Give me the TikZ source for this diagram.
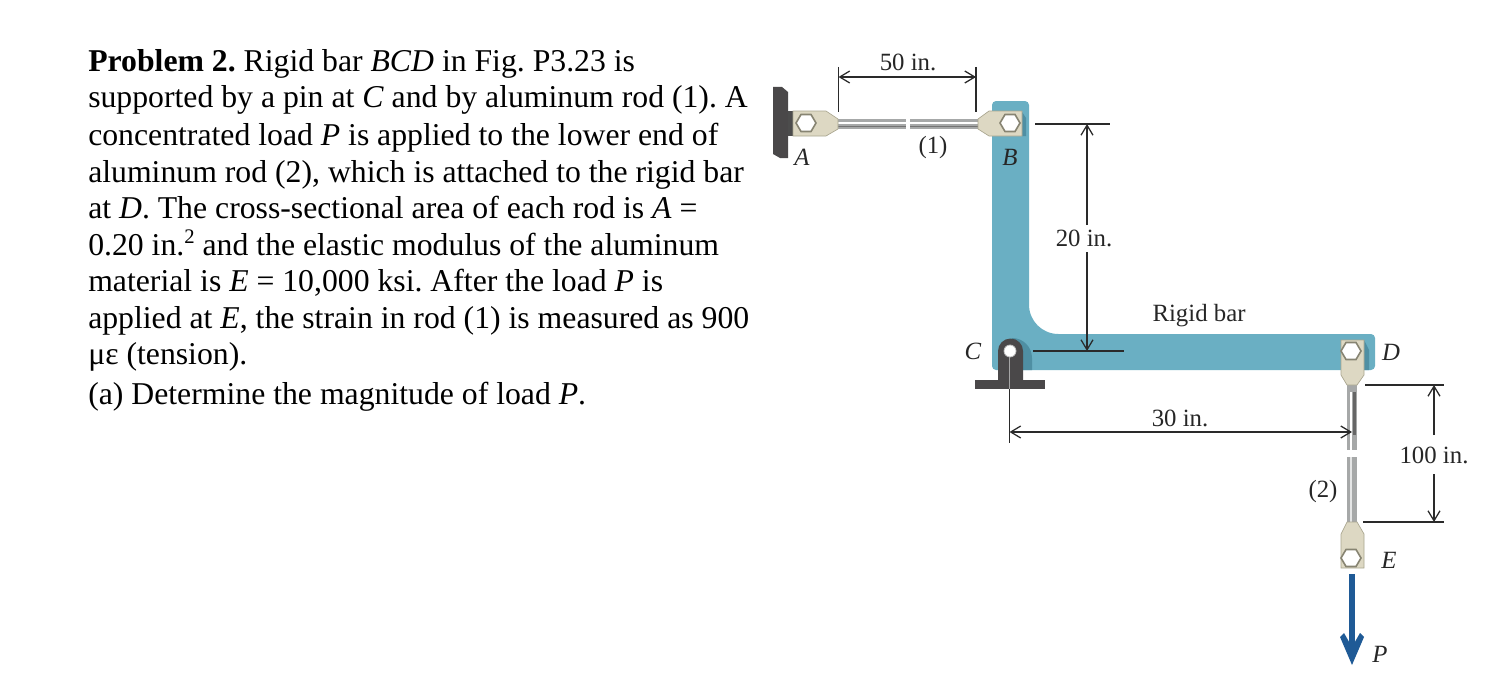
\documentclass[tikz,border=0pt]{standalone}
\usepackage{fontspec}
\setmainfont{Liberation Serif}
\usetikzlibrary{arrows.meta,calc}
\frenchspacing
\definecolor{barblue}{HTML}{6AAFC3}
\definecolor{barshade}{HTML}{4F8FA3}
\definecolor{clevis}{HTML}{DDD8C3}
\definecolor{clevisedge}{HTML}{A9A58F}
\definecolor{darkmetal}{HTML}{4A4849}
\definecolor{loadblue}{HTML}{1F5A96}
\definecolor{rodgrey}{HTML}{A6A8A8}
\definecolor{dimcol}{HTML}{2A2A2A}
\tikzset{
  x=0.75pt,y=-0.75pt,
  para/.style={anchor=base west,inner sep=0pt,font=\fontsize{23.8pt}{26pt}\selectfont},
  lab/.style={inner sep=0pt,font=\fontsize{18.6pt}{20pt}\selectfont,text=black!85},
  ilab/.style={lab,font=\fontsize{18.6pt}{20pt}\selectfont\itshape},
  dimline/.style={draw=dimcol,line width=0.95pt},
  dimarrow/.style={dimline,-{Straight Barb[length=7.5pt,width=9pt,line width=0.95pt]}},
  dimboth/.style={dimline,{Straight Barb[length=7.5pt,width=9pt,line width=0.95pt]}-{Straight Barb[length=7.5pt,width=9pt,line width=0.95pt]}},
  hexnut/.style={fill=white,draw=clevisedge!80!black,line width=1.2pt},
  clevisfill/.style={fill=clevis,draw=clevisedge,line width=0.5pt},
  rodfill/.style={fill=rodgrey},
}
\newcommand{\hexat}[1]{\draw[hexnut] ($(#1)+(10,0)$) -- ($(#1)+(5,-8.5)$) -- ($(#1)+(-5,-8.5)$) -- ($(#1)+(-10,0)$) -- ($(#1)+(-5,8.5)$) -- ($(#1)+(5,8.5)$) -- cycle;}
\begin{document}
\begin{tikzpicture}
\useasboundingbox (0,0) rectangle (1498,685);
% paragraph
\node[para] (t1) at (88,72) {\textbf{Problem 2.} Rigid bar \textit{BCD} in Fig. P3.23 is};
\node[para] (t2) at (88,108) {supported by a pin at \textit{C} and by aluminum rod (1). A};
\node[para] (t3) at (88,145) {concentrated load \textit{P} is applied to the lower end of};
\node[para] (t4) at (88,182) {aluminum rod (2), which is attached to the rigid bar};
\node[para] (t5) at (88,218) {at \textit{D}. The cross-sectional area of each rod is \textit{A} =};
\node[para] (t6) at (88,255) {0.20 in.\raisebox{0.36em}{\fontsize{15.5pt}{16pt}\selectfont 2} and the elastic modulus of the aluminum};
\node[para] (t7) at (88,291) {material is \textit{E} = 10,000 ksi. After the load \textit{P} is};
\node[para] (t8) at (88,328) {applied at \textit{E}, the strain in rod (1) is measured as 900};
\node[para] (t9) at (88,364) {με (tension).};
\node[para] (t10) at (88,404) {(a) Determine the magnitude of load \textit{P}.};
% rigid bar
\fill[barblue,rounded corners=3pt] (992,101) -- (1029,101) -- (1029,310)
  [rounded corners=22pt] -- (1029,334) [rounded corners=3pt] -- (1375,334) -- (1375,370) -- (992,370) -- cycle;
\fill[barshade] (1012,338) arc (270:360:20) -- (1032,370) -- (1012,370) -- cycle;
\fill[barshade] (1364,340) -- (1369,350) -- (1369,370) -- (1364,370) -- cycle;
\fill[barshade] (1022,112) -- (1026,118) -- (1026,136) -- (1022,136) -- cycle;
% wall at A
\fill[darkmetal] (773,87) -- (782,87) -- (788,92) -- (788,158) -- (780,158) -- (773,154) -- cycle;
\fill[black!70] (788,111) rectangle (794,136);
% rod 1
\fill[rodfill] (838,119) rectangle (906,129);
\fill[rodfill] (910,119) rectangle (980,129);
\fill[white] (838,122) rectangle (906,123.5);
\fill[white] (910,122) rectangle (980,123.5);
\fill[black!55] (838,125.5) rectangle (906,127);
\fill[black!55] (910,125.5) rectangle (980,127);
% clevis A and B
\draw[clevisfill] (793,111) -- (826,111) -- (838,119) -- (838,129) -- (826,136) -- (793,136) -- cycle;
\draw[clevisfill] (1022,111) -- (989,111) -- (978,119) -- (978,129) -- (989,136) -- (1022,136) -- cycle;
\coordinate (pinA) at (806,123);
\coordinate (pinB) at (1010,123);
\hexat{pinA}
\hexat{pinB}
% rod 2
\fill[rodfill] (1347,385) rectangle (1357,450);
\fill[rodfill] (1347,457) rectangle (1357,522);
\fill[white] (1350,392) rectangle (1351.5,450);
\fill[black!60] (1353,392) rectangle (1355.5,435);
\fill[white!70!rodgrey] (1350,457) rectangle (1351.5,522);
% clevis D and E
\draw[clevisfill] (1341,340) -- (1364,340) -- (1364,375) -- (1357,385) -- (1347,385) -- (1341,375) -- cycle;
\draw[clevisfill] (1341,568) -- (1364,568) -- (1364,534) -- (1357,522) -- (1347,522) -- (1341,534) -- cycle;
\coordinate (pinD) at (1351,351);
\coordinate (pinE) at (1351,558);
\hexat{pinD}
\hexat{pinE}
% pin support C
\coordinate (pinC) at (1010,351);
\fill[darkmetal] (998,381) -- (998,351) arc (180:360:12.5) -- (1023,381) -- cycle;
\fill[darkmetal] (975,380) rectangle (1045,389);
\fill[white,draw=black!25,line width=0.6pt] (pinC) circle (6);
% load P
\coordinate (loadTop) at (1352,574);
\coordinate (loadTip) at (1352,665);
\draw[loadblue,line width=4pt] (loadTop) -- (1352,655);
\fill[loadblue] (loadTip) -- (1340,637) -- (1344,633) -- (1352,647) -- (1360,633) -- (1364,637) -- cycle;
% dimension 50 in.
\coordinate (d50a) at (838.5,67);
\coordinate (d50ae) at (838.5,112);
\coordinate (d50b) at (976,67);
\coordinate (d50be) at (976,112);
\coordinate (d50l) at (838.5,77);
\coordinate (d50r) at (976,77);
\draw[dimline] (d50a) -- (d50ae);
\draw[dimline] (d50b) -- (d50be);
\draw[dimboth] (d50l) -- (d50r);
\node[lab] (l50) at (908,62) {50 in.};
% dimension 20 in.
\coordinate (d20a) at (1035,124);
\coordinate (d20ae) at (1110,124);
\coordinate (d20b) at (1033,351);
\coordinate (d20be) at (1124,351);
\draw[dimline] (d20a) -- (d20ae);
\draw[dimline] (d20b) -- (d20be);
\node[lab] (l20) at (1084,238) {20 in.};
\coordinate (a20t) at (1087,124);
\coordinate (a20b) at (1087,351);
\draw[dimarrow] (1087,225) -- (a20t);
\draw[dimarrow] (1087,252) -- (a20b);
% dimension 30 in.
\coordinate (d30t) at (1009.5,357);
\coordinate (d30b) at (1009.5,443);
\draw[black!35,line width=0.95pt] (d30t) -- (1009.5,389);
\draw[dimline] (1009.5,389) -- (d30b);
\coordinate (a30l) at (1009.5,432);
\coordinate (a30r) at (1352,432);
\draw[dimboth] (a30l) -- (a30r);
\node[lab] (l30) at (1180,418) {30 in.};
% dimension 100 in.
\coordinate (d100a) at (1365,385);
\coordinate (d100ae) at (1444,385);
\coordinate (d100b) at (1363,522);
\coordinate (d100be) at (1444,522);
\draw[dimline] (d100a) -- (d100ae);
\draw[dimline] (d100b) -- (d100be);
\node[lab] (l100) at (1434,455) {100 in.};
\coordinate (a100t) at (1434,385);
\coordinate (a100b) at (1434,522);
\draw[dimarrow] (1434,435) -- (a100t);
\draw[dimarrow] (1434,474) -- (a100b);
% labels
\node[ilab] (lA) at (802,157) {A};
\node[ilab] (lB) at (1010,157) {B};
\node[ilab] (lC) at (973,351) {C};
\node[ilab] (lD) at (1391,352) {D};
\node[ilab] (lE) at (1389,560) {E};
\node[ilab] (lP) at (1380,654) {P};
\node[lab] (l1) at (933,148) {(1)};
\node[lab] (l2) at (1323,492) {(2)};
\node[lab] (lR) at (1199,316) {Rigid bar};
\end{tikzpicture}
\end{document}
